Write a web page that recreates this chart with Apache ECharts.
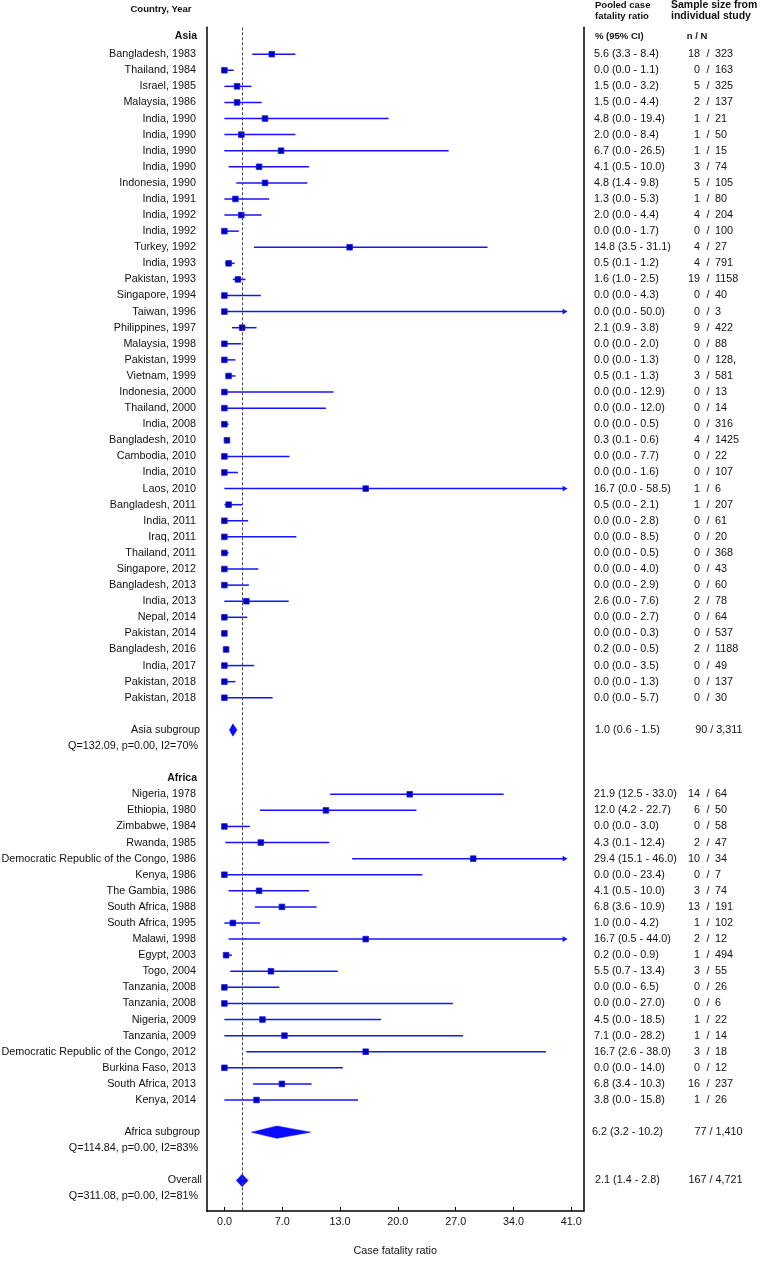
<!DOCTYPE html>
<html>
<head>
<meta charset="utf-8">
<script src="https://cdn.jsdelivr.net/npm/echarts@6/dist/echarts.min.js"></script>
<style>
html,body{margin:0;padding:0;background:#fff;}
#chart{width:764px;height:1262px;}
</style>
</head>
<body>
<div id="chart"></div>
<script>
// ---------------- DATA ----------------
const asiaLabels = ["Bangladesh, 1983","Thailand, 1984","Israel, 1985","Malaysia, 1986","India, 1990","India, 1990","India, 1990","India, 1990","Indonesia, 1990","India, 1991","India, 1992","India, 1992","Turkey, 1992","India, 1993","Pakistan, 1993","Singapore, 1994","Taiwan, 1996","Philippines, 1997","Malaysia, 1998","Pakistan, 1999","Vietnam, 1999","Indonesia, 2000","Thailand, 2000","India, 2008","Bangladesh, 2010","Cambodia, 2010","India, 2010","Laos, 2010","Bangladesh, 2011","India, 2011","Iraq, 2011","Thailand, 2011","Singapore, 2012","Bangladesh, 2013","India, 2013","Nepal, 2014","Pakistan, 2014","Bangladesh, 2016","India, 2017","Pakistan, 2018","Pakistan, 2018"];
const asiaEst = [5.6,0.0,1.5,1.5,4.8,2.0,6.7,4.1,4.8,1.3,2.0,0.0,14.8,0.5,1.6,0.0,0.0,2.1,0.0,0.0,0.5,0.0,0.0,0.0,0.3,0.0,0.0,16.7,0.5,0.0,0.0,0.0,0.0,0.0,2.6,0.0,0.0,0.2,0.0,0.0,0.0];
const asiaLo = [3.3,0.0,0.0,0.0,0.0,0.0,0.0,0.5,1.4,0.0,0.0,0.0,3.5,0.1,1.0,0.0,0.0,0.9,0.0,0.0,0.1,0.0,0.0,0.0,0.1,0.0,0.0,0.0,0.0,0.0,0.0,0.0,0.0,0.0,0.0,0.0,0.0,0.0,0.0,0.0,0.0];
const asiaHi = [8.4,1.1,3.2,4.4,19.4,8.4,26.5,10.0,9.8,5.3,4.4,1.7,31.1,1.2,2.5,4.3,50.0,3.8,2.0,1.3,1.3,12.9,12.0,0.5,0.6,7.7,1.6,58.5,2.1,2.8,8.5,0.5,4.0,2.9,7.6,2.7,0.3,0.5,3.5,1.3,5.7];
const asiaN = ["18","0","5","2","1","1","1","3","5","1","4","0","4","4","19","0","0","9","0","0","3","0","0","0","4","0","0","1","1","0","0","0","0","0","2","0","0","2","0","0","0"];
const asiaTotal = ["323","163","325","137","21","50","15","74","105","80","204","100","27","791","1158","40","3","422","88","128,","581","13","14","316","1425","22","107","6","207","61","20","368","43","60","78","64","537","1188","49","137","30"];

const africaLabels = ["Nigeria, 1978","Ethiopia, 1980","Zimbabwe, 1984","Rwanda, 1985","Democratic Republic of the Congo, 1986","Kenya, 1986","The Gambia, 1986","South Africa, 1988","South Africa, 1995","Malawi, 1998","Egypt, 2003","Togo, 2004","Tanzania, 2008","Tanzania, 2008","Nigeria, 2009","Tanzania, 2009","Democratic Republic of the Congo, 2012","Burkina Faso, 2013","South Africa, 2013","Kenya, 2014"];
const africaEst = [21.9,12.0,0.0,4.3,29.4,0.0,4.1,6.8,1.0,16.7,0.2,5.5,0.0,0.0,4.5,7.1,16.7,0.0,6.8,3.8];
const africaLo = [12.5,4.2,0.0,0.1,15.1,0.0,0.5,3.6,0.0,0.5,0.0,0.7,0.0,0.0,0.0,0.0,2.6,0.0,3.4,0.0];
const africaHi = [33.0,22.7,3.0,12.4,46.0,23.4,10.0,10.9,4.2,44.0,0.9,13.4,6.5,27.0,18.5,28.2,38.0,14.0,10.3,15.8];
const africaN = ["14","6","0","2","10","0","3","13","1","2","1","3","0","0","1","1","3","0","16","1"];
const africaTotal = ["64","50","58","47","34","7","74","191","102","12","494","55","26","6","22","14","18","12","237","26"];

const pooledLabels = ["Asia subgroup","Africa subgroup","Overall"];
const pooledEst = [1.0, 6.2, 2.1];
const pooledLo = [0.6, 3.2, 1.4];
const pooledHi = [1.5, 10.2, 2.8];
const pooledCounts = ["90 / 3,311","77 / 1,410","167 / 4,721"];
const heterogeneity = ["Q=132.09, p=0.00, I2=70%","Q=114.84, p=0.00, I2=83%","Q=311.08, p=0.00, I2=81%"];
const groupHeaders = ["Asia","Africa"];

const axisMax = 41;
const tickLabels = ["0.0","7.0","13.0","20.0","27.0","34.0","41.0"];

// ---------------- LAYOUT ----------------
const FONT = "'Liberation Sans', Arial, sans-serif";
const TXT = '#111';
const BLUE = '#1414ff';
const FS = 10.8;
const tickPositions = tickLabels.map((_, i) => i * axisMax / (tickLabels.length - 1));
const arrowLimit = 40.5;

// row slots
const studyRows = [];
asiaLabels.forEach((l, i) => studyRows.push({label:l, est:asiaEst[i], lo:asiaLo[i], hi:asiaHi[i], n:asiaN[i], N:asiaTotal[i], slot:1 + i}));
const asiaSubSlot = asiaLabels.length + 2;           // 43
const africaHeadSlot = asiaSubSlot + 3;              // 46
africaLabels.forEach((l, i) => studyRows.push({label:l, est:africaEst[i], lo:africaLo[i], hi:africaHi[i], n:africaN[i], N:africaTotal[i], slot:africaHeadSlot + 1 + i}));
const africaSubSlot = africaHeadSlot + africaLabels.length + 2; // 68
const overallSlot = africaSubSlot + 3;               // 71
const pooledSlots = [asiaSubSlot, africaSubSlot, overallSlot];

const textRows = [
  {text: groupHeaders[0], slot: -0.12, x: 197, align: 'right', bold: true, size: 10.5},
  {text: groupHeaders[1], slot: africaHeadSlot, x: 197, align: 'right', bold: true, size: 10.5},
];
heterogeneity.forEach((h, i) => textRows.push({text: h, slot: pooledSlots[i] + 1, x: 198, align: 'right', bold: false, size: FS}));

const fmt = v => v.toFixed(1);

function txt(x, y, text, align, size, bold) {
  return {type: 'text', x: x, y: y, style: {text: text, textAlign: align, align: align, textVerticalAlign: 'middle', verticalAlign: 'middle',
    fontSize: size || FS, fontWeight: bold ? 'bold' : 'normal', fontFamily: FONT, fill: TXT}};
}
function head(x, y, text, align, size) {
  return {type: 'text', x: x, y: y, style: {text: text, textAlign: align, textVerticalAlign: 'middle', fontSize: size, fontWeight: 'bold', fontFamily: FONT, fill: TXT}};
}

const chart = echarts.init(document.getElementById('chart'), null, {renderer: 'canvas'});

const option = {
  animation: false,
  backgroundColor: '#fff',
  grid: {left: 206.7, right: 180.3, top: 27.3, bottom: 42.7},
  xAxis: {
    type: 'value', min: -2.09, max: 42.46,
    axisLine: {show: true, onZero: false, lineStyle: {color: '#000', width: 1.5}},
    axisTick: {show: true, inside: true, length: 4, customValues: tickPositions, lineStyle: {color: '#000', width: 1}},
    axisLabel: {customValues: tickPositions, margin: 6, fontSize: FS, fontFamily: FONT, color: TXT,
      formatter: function (v) {
        const i = tickPositions.findIndex(t => Math.abs(t - v) < 1e-6);
        return i >= 0 ? tickLabels[i] : '';
      }},
    splitLine: {show: false},
    name: 'Case fatality ratio', nameLocation: 'middle', nameGap: 35,
    nameTextStyle: {fontSize: FS, fontFamily: FONT, color: TXT}
  },
  yAxis: [
    {type: 'value', inverse: true, min: -0.67, max: 72.9, position: 'left',
      axisLine: {show: true, onZero: false, lineStyle: {color: '#000', width: 1.5}},
      axisTick: {show: false}, axisLabel: {show: false}, splitLine: {show: false}},
    {type: 'value', inverse: true, min: -0.67, max: 72.9, position: 'right',
      axisLine: {show: true, onZero: false, lineStyle: {color: '#000', width: 1.5}},
      axisTick: {show: false}, axisLabel: {show: false}, splitLine: {show: false}}
  ],
  graphic: [
    head(161, 9.5, 'Country, Year', 'center', 9.5),
    head(595, 5, 'Pooled case', 'left', 9.5),
    head(595, 16, 'fatality ratio', 'left', 9.5),
    head(671, 5, 'Sample size from', 'left', 10.5),
    head(671, 16, 'individual study', 'left', 10.5),
    head(595, 36, '% (95% CI)', 'left', 9.5),
    head(697, 36, 'n / N', 'center', 9.5)
  ],
  series: [
    {
      name: 'studies', type: 'custom', clip: false,
      encode: {x: [0, 1, 2], y: 3},
      data: studyRows.map(r => [r.est, r.lo, r.hi, r.slot]),
      renderItem: function (params, api) {
        const r = studyRows[params.dataIndex];
        const est = api.value(0), lo = api.value(1), hi = api.value(2), slot = api.value(3);
        const p = api.coord([est, slot]);
        const pl = api.coord([lo, slot]);
        const arrow = hi > axisMax;
        const ph = api.coord([arrow ? arrowLimit : hi, slot]);
        const y = p[1];
        const children = [];
        children.push({type: 'line', shape: {x1: pl[0], y1: y, x2: arrow ? ph[0] - 3 : ph[0], y2: y},
          style: {stroke: BLUE, lineWidth: 1.5}});
        if (arrow) {
          children.push({type: 'polygon', shape: {points: [[ph[0] + 0.5, y], [ph[0] - 4.5, y - 2.8], [ph[0] - 4.5, y + 2.8]]},
            style: {fill: BLUE}});
        }
        children.push({type: 'rect', shape: {x: p[0] - 2.8, y: y - 2.8, width: 5.6, height: 5.6},
          style: {fill: '#0000a8', stroke: '#1a1aff', lineWidth: 0.8}});
        // text columns
        children.push(txt(196, y, r.label, 'right'));
        children.push(txt(594, y, fmt(r.est) + ' (' + fmt(r.lo) + ' - ' + fmt(r.hi) + ')', 'left'));
        children.push(txt(700, y, r.n, 'right'));
        children.push(txt(708, y, '/', 'center'));
        children.push(txt(715, y, r.N, 'left'));
        return {type: 'group', children: children};
      },
      z: 3
    },
    {
      name: 'pooled', type: 'custom', clip: false,
      encode: {x: [0, 1, 2], y: 3},
      data: pooledEst.map((e, i) => [e, pooledLo[i], pooledHi[i], pooledSlots[i]]),
      renderItem: function (params, api) {
        const i = params.dataIndex;
        const slot = api.value(3);
        const p = api.coord([api.value(0), slot]);
        const pl = api.coord([api.value(1), slot]);
        const ph = api.coord([api.value(2), slot]);
        const y = p[1], h = 6.2;
        const labelX = i === 2 ? 202 : 200;
        return {type: 'group', children: [
          {type: 'polygon', shape: {points: [[pl[0], y], [p[0], y - h], [ph[0], y], [p[0], y + h]]},
            style: {fill: '#0a0aff', stroke: '#0a0aff', lineWidth: 0.5}},
          txt(labelX, y, pooledLabels[i], 'right'),
          txt(627.5, y, fmt(pooledEst[i]) + ' (' + fmt(pooledLo[i]) + ' - ' + fmt(pooledHi[i]) + ')', 'center'),
          txt(742.5, y, pooledCounts[i], 'right')
        ]};
      },
      markLine: {
        silent: true, symbol: 'none', label: {show: false},
        lineStyle: {type: [3, 2], color: '#444', width: 1},
        data: [{xAxis: pooledEst[2]}]
      },
      z: 4
    },
    {
      name: 'rowText', type: 'custom', clip: false,
      encode: {x: 0, y: 1},
      data: textRows.map(t => [0, t.slot]),
      renderItem: function (params, api) {
        const t = textRows[params.dataIndex];
        const p = api.coord([0, api.value(1)]);
        return txt(t.x, p[1], t.text, t.align, t.size, t.bold);
      }
    }
  ]
};
chart.setOption(option);
</script>
</body>
</html>
